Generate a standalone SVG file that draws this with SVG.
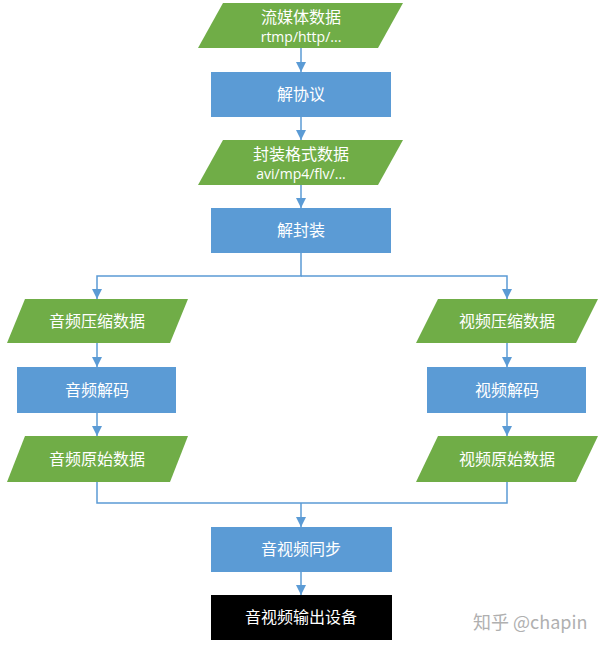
<svg xmlns="http://www.w3.org/2000/svg" width="605" height="650" viewBox="0 0 605 650">
<defs>
<marker id="ah" viewBox="0 0 10 10" refX="10" refY="5" markerWidth="10" markerHeight="10" markerUnits="userSpaceOnUse" orient="auto">
<path d="M0,0 L10,5 L0,10 z" fill="#5B9BD5"/>
</marker>
<style>
.data{fill:#70AD47;}
.proc{fill:#5B9BD5;}
.out{fill:#000000;}
.t{font-family:"Noto Sans CJK SC","Microsoft YaHei",sans-serif;font-size:16px;fill:#ffffff;text-anchor:middle;}
.s{font-family:"Open Sans","Liberation Sans",sans-serif;font-size:14px;fill:#ffffff;text-anchor:middle;}
.c{fill:none;stroke:#5B9BD5;stroke-width:1.5;}
.wm{font-family:"Noto Sans CJK SC","Liberation Sans",sans-serif;font-size:18px;fill:#b0b0b0;}
</style>
</defs>
<rect width="605" height="650" fill="#ffffff"/>
<g id="connectors">
<path class="c" d="M301,48 V72" marker-end="url(#ah)"/>
<path class="c" d="M301,117 V140" marker-end="url(#ah)"/>
<path class="c" d="M301,185 V208" marker-end="url(#ah)"/>
<path class="c" d="M301,253 V276 H97 V299" marker-end="url(#ah)"/>
<path class="c" d="M301,276 H507 V299" marker-end="url(#ah)"/>
<path class="c" d="M97,343 V367" marker-end="url(#ah)"/>
<path class="c" d="M507,343 V367" marker-end="url(#ah)"/>
<path class="c" d="M97,413 V436" marker-end="url(#ah)"/>
<path class="c" d="M507,413 V436" marker-end="url(#ah)"/>
<path class="c" d="M97,482 V503 H507 V482"/>
<path class="c" d="M301,503 V527" marker-end="url(#ah)"/>
<path class="c" d="M301,572 V595" marker-end="url(#ah)"/>
</g>
<g id="stream">
<polygon class="data" points="223,3 403,3 378,48 198,48"/>
<text class="t" x="301" y="23">流媒体数据</text>
<text class="s" x="301" y="42">rtmp/http/...</text>
</g>
<g id="deprotocol">
<rect class="proc" x="211" y="72" width="180" height="45"/>
<text class="t" x="301" y="100">解协议</text>
</g>
<g id="container">
<polygon class="data" points="223,140 403,140 378,185 198,185"/>
<text class="t" x="301" y="160">封装格式数据</text>
<text class="s" x="301" y="179">avi/mp4/flv/...</text>
</g>
<g id="demux">
<rect class="proc" x="211" y="208" width="180" height="45"/>
<text class="t" x="301" y="236">解封装</text>
</g>
<g id="audio-compressed">
<polygon class="data" points="25,299 188,299 170,343 7,343"/>
<text class="t" x="97" y="327">音频压缩数据</text>
</g>
<g id="audio-decode">
<rect class="proc" x="17" y="367" width="159" height="46"/>
<text class="t" x="97" y="396">音频解码</text>
</g>
<g id="audio-raw">
<polygon class="data" points="25,436 188,436 170,482 7,482"/>
<text class="t" x="97" y="465">音频原始数据</text>
</g>
<g id="video-compressed">
<polygon class="data" points="438,299 598,299 576,343 416,343"/>
<text class="t" x="507" y="327">视频压缩数据</text>
</g>
<g id="video-decode">
<rect class="proc" x="427" y="367" width="159" height="46"/>
<text class="t" x="507" y="396">视频解码</text>
</g>
<g id="video-raw">
<polygon class="data" points="438,436 598,436 576,482 416,482"/>
<text class="t" x="507" y="465">视频原始数据</text>
</g>
<g id="sync">
<rect class="proc" x="211" y="527" width="181" height="45"/>
<text class="t" x="301" y="555">音视频同步</text>
</g>
<g id="output">
<rect class="out" x="211" y="595" width="181" height="45"/>
<text class="t" x="301" y="623">音视频输出设备</text>
</g>
<text class="wm" x="473" y="629">知乎 @chapin</text>
</svg>
